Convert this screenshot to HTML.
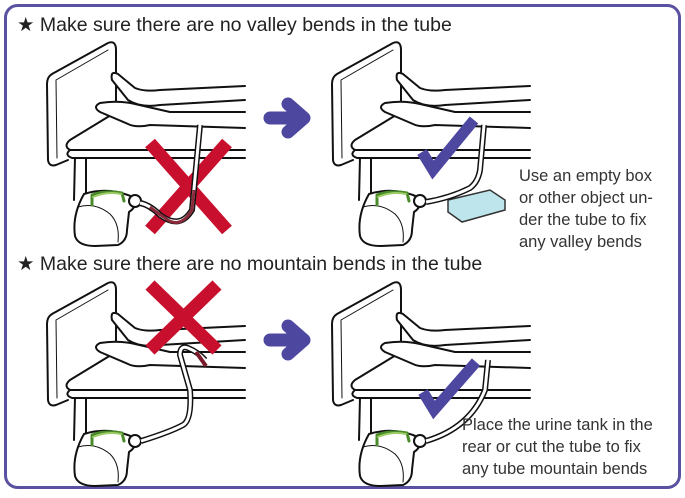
<!DOCTYPE html>
<html><head><meta charset="utf-8"><style>
html,body{margin:0;padding:0;background:#fff}
body{width:685px;height:493px;overflow:hidden;font-family:"Liberation Sans",sans-serif}
</style></head><body>
<svg width="685" height="493" viewBox="0 0 685 493" xmlns="http://www.w3.org/2000/svg">
<defs>
<g id="scene" fill="none" stroke="#111" stroke-width="2" stroke-linejoin="round" stroke-linecap="round">
  <path d="M52,74 L108,43 Q116,40 116,50 L116,140 M52,74 Q47,77 47,84 L48,160 Q49,167 56,165 L68,160" fill="#fff"/>
  <path d="M56,80 L108,50 M56,80 L57,158"  stroke-width="1"/>
  <path d="M75,157 L74,200 M86,157 L86,195"/>
  <path d="M116,112 L70,140 Q63,146 70,150 L245,150 M70,150 Q64,155 72,158 L245,158" fill="#fff"/>
  <path d="M245,86 L160,90 Q145,92 135,88 L118,74 Q110,70 112,80 L128,100 Q140,108 160,105 L245,100" fill="#fff"/>
  <path d="M245,112 L170,112 L135,104 Q118,100 100,103 Q92,107 100,112 L128,124 Q136,128 150,125 L245,128" fill="#fff"/>
  <path d="M84,194 Q72,215 75,236 Q78,246 95,246 L118,245 Q127,241 127,230 L129,212 Q137,207 135,198 Q110,186 84,194 Z" fill="#fff"/>
  <path d="M78,207 Q95,202 110,214 Q120,224 118,242" stroke-width="1"/>
  <path d="M92,205 L92,195 Q105,190 122,193 L124,201" stroke="#4a8a2a" stroke-width="3"/>
  <path d="M93,197 Q107,191 121,194" stroke="#9ccc65" stroke-width="2"/>
  <circle cx="135" cy="201" r="6" fill="#fff" stroke-width="2"/>
</g>
</defs>
<rect x="5.5" y="5.5" width="674" height="482" rx="12" fill="none" stroke="#5a52a0" stroke-width="3"/>
<text x="17" y="31" font-size="19.5" fill="#222">★ Make sure there are no valley bends in the tube</text>
<text x="17" y="270" font-size="19.5" fill="#222">★ Make sure there are no mountain bends in the tube</text>

<!-- panel 1 -->
<use href="#scene"/>
<path d="M150,143 L227,230 M227,143 L150,230" stroke="#c8102e" stroke-width="13" fill="none"/>
<path d="M140,203 Q150,205 160,215 Q180,230 192,210 L200,125" fill="none" stroke="#111" stroke-width="6"/>
<path d="M140,203 Q150,205 160,215 Q180,230 192,210 L200,125" fill="none" stroke="#fff" stroke-width="3"/>
<path d="M150,207 Q160,215 165,218 Q180,230 192,210 L194,190" fill="none" stroke="#8a2a3a" stroke-width="3"/>

<!-- arrows -->
<path d="M270,118 L298,118 M288,104 L304,118 L288,132" stroke="#4e47a0" stroke-width="13" stroke-linecap="round" stroke-linejoin="round" fill="none"/>
<path d="M270,340 L298,340 M288,326 L304,340 L288,354" stroke="#4e47a0" stroke-width="13" stroke-linecap="round" stroke-linejoin="round" fill="none"/>

<!-- panel 2 -->
<use href="#scene" x="285"/>
<path d="M448,200 L490,190 L505,200 L505,210 L462,222 L448,212 Z" fill="#bfe5ec" stroke="#333" stroke-width="1.5"/>
<path d="M426,202 Q450,198 470,188 Q478,182 480,170 L484,125" fill="none" stroke="#111" stroke-width="6"/>
<path d="M426,202 Q450,198 470,188 Q478,182 480,170 L484,125" fill="none" stroke="#fff" stroke-width="3"/>
<path d="M422,152 L433,170 L474,120" stroke="#4e47a0" stroke-width="11" fill="none"/>
<text font-size="16.5" fill="#333"><tspan x="519" y="181">Use an empty box</tspan><tspan x="519" y="203">or other object un-</tspan><tspan x="519" y="225">der the tube to fix</tspan><tspan x="519" y="247">any valley bends</tspan></text>

<!-- panel 3 -->
<use href="#scene" y="240"/>
<path d="M150,285 L217,350 M217,285 L150,350" stroke="#c8102e" stroke-width="13" fill="none"/>
<path d="M141,441 Q170,432 183,425 Q192,420 190,390 L180,355 Q180,345 188,348 Q198,352 205,360" fill="none" stroke="#111" stroke-width="6"/>
<path d="M141,441 Q170,432 183,425 Q192,420 190,390 L180,355 Q180,345 188,348 Q198,352 205,360" fill="none" stroke="#fff" stroke-width="3"/>
<path d="M196,352 L206,366" stroke="#7a1a2a" stroke-width="4"/>

<!-- panel 4 -->
<use href="#scene" x="285" y="240"/>
<path d="M426,441 Q470,428 485,390 L488,360" fill="none" stroke="#111" stroke-width="6"/>
<path d="M426,441 Q470,428 485,390 L488,360" fill="none" stroke="#fff" stroke-width="3"/>
<path d="M423,392 L434,410 L476,362" stroke="#4e47a0" stroke-width="11" fill="none"/>
<text font-size="16.5" fill="#333"><tspan x="462" y="430">Place the urine tank in the</tspan><tspan x="462" y="452">rear or cut the tube to fix</tspan><tspan x="462" y="474">any tube mountain bends</tspan></text>
</svg>
</body></html>
